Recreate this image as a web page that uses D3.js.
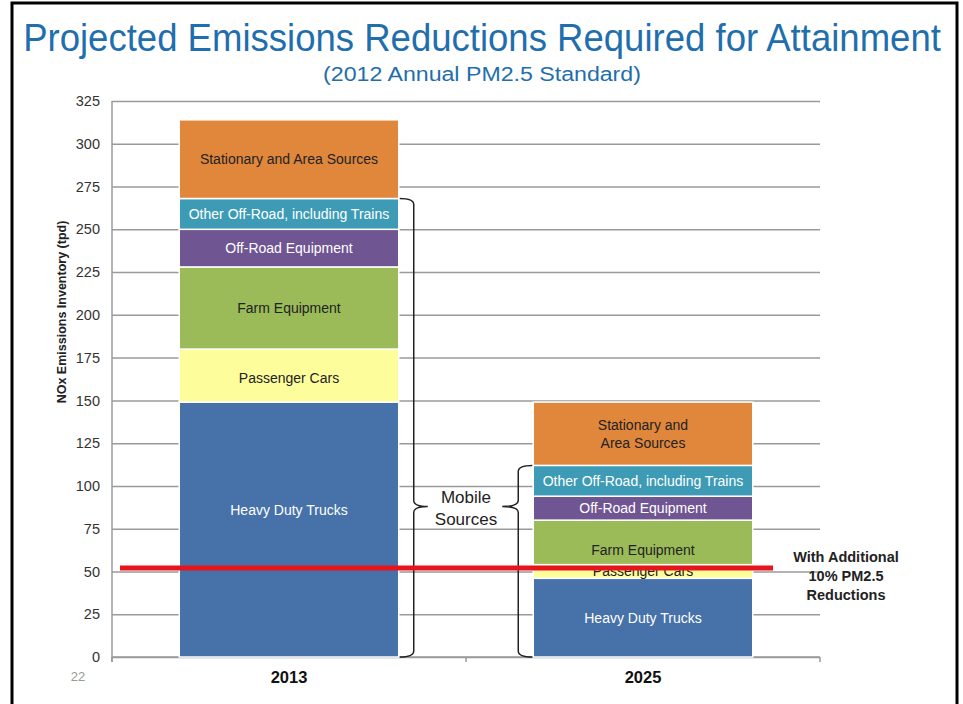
<!DOCTYPE html>
<html>
<head>
<meta charset="utf-8">
<script src="https://cdn.jsdelivr.net/npm/d3@7"></script>
<style>
  body { margin: 0; background: #fff; }
  svg { display: block; font-family: "Liberation Sans", Arial, sans-serif; }
</style>
</head>
<body>
<svg width="963" height="704"></svg>
<script>
// data
const years = ["2013", "2025"];
const sources = ["Heavy Duty Trucks", "Passenger Cars", "Farm Equipment",
                 "Off-Road Equipment", "Other Off-Road, including Trains",
                 "Stationary and Area Sources"];
const values2013 = [149, 31, 48, 22, 18, 46];
const values2025 = [46, 8, 26, 14, 18, 37];
const labels2013 = [["Heavy Duty Trucks"], ["Passenger Cars"], ["Farm Equipment"],
                    ["Off-Road Equipment"], ["Other Off-Road, including Trains"],
                    ["Stationary and Area Sources"]];
const labels2025 = [["Heavy Duty Trucks"], ["Passenger Cars"], ["Farm Equipment"],
                    ["Off-Road Equipment"], ["Other Off-Road, including Trains"],
                    ["Stationary and", "Area Sources"]];
const yTicks = [0, 25, 50, 75, 100, 125, 150, 175, 200, 225, 250, 275, 300, 325];
const targetLevel = 52;
const braceTip = 88;

const colors = ["#4672a9", "#fefd9b", "#9bbb59", "#6f5592", "#3e9bb6", "#e0873c"];
const textColors = ["#fff", "#222", "#222", "#fff", "#fff", "#222"];
// small vertical nudges of some labels (px), as placed on the slide
const labelNudge = { "2013|Heavy Duty Trucks": -19, "2025|Farm Equipment": 8, "2013|Passenger Cars": 3 };

let svg = d3.select("svg");

let plotLeft = 112, plotRight = 820, plotTop = 101, plotBottom = 657;

let x = d3.scaleBand()
    .domain(years)
    .range([plotLeft, plotRight])
    .paddingInner(0.38)
    .paddingOuter(0.19);

let y = d3.scaleLinear()
    .domain([0, 325])
    .range([plotBottom, plotTop]);

// border of the slide
svg.append("rect")
    .attr("x", 12).attr("y", 3)
    .attr("width", 945).attr("height", 740)
    .attr("fill", "none")
    .attr("stroke", "#000")
    .attr("stroke-width", 3);

// title, squeezed to the width it has on the slide
let title = svg.append("text")
    .attr("text-anchor", "middle")
    .attr("font-size", 38)
    .attr("fill", "#1f6ead")
    .text("Projected Emissions Reductions Required for Attainment");
let tw = title.node().getComputedTextLength();
title.attr("transform", `translate(482,51) scale(${918 / tw},1)`);

let sub = svg.append("text")
    .attr("text-anchor", "middle")
    .attr("font-size", 20)
    .attr("fill", "#1f6ead")
    .text("(2012 Annual PM2.5 Standard)");
let sw = sub.node().getComputedTextLength();
sub.attr("transform", `translate(482,81) scale(${318 / sw},1)`);

// gridlines
svg.append("g")
    .attr("transform", `translate(${plotLeft},0)`)
    .call(d3.axisLeft(y).tickValues(yTicks).tickSize(-(plotRight - plotLeft)).tickFormat(""))
    .call(g => g.select(".domain").remove())
    .selectAll("line")
    .attr("stroke", "#9a9a9a")
    .attr("stroke-width", 1.5);

// y axis labels
let yAxis = svg.append("g")
    .attr("transform", `translate(${plotLeft},0)`)
    .call(d3.axisLeft(y).tickValues(yTicks).tickSize(0).tickPadding(12));
yAxis.select(".domain").remove();
yAxis.selectAll("text")
    .attr("font-family", "Liberation Sans, Arial, sans-serif")
    .attr("font-size", 14.5)
    .attr("fill", "#333");

svg.append("line")
    .attr("x1", plotLeft).attr("x2", plotLeft)
    .attr("y1", plotTop).attr("y2", plotBottom + 5)
    .attr("stroke", "#9a9a9a")
    .attr("stroke-width", 1.5);

svg.append("line")
    .attr("x1", plotLeft).attr("x2", plotRight)
    .attr("y1", plotBottom).attr("y2", plotBottom)
    .attr("stroke", "#9a9a9a")
    .attr("stroke-width", 1.5);

// ticks at the band boundaries
svg.append("g")
    .selectAll("line")
    .data(d3.range(years.length + 1))
    .enter()
    .append("line")
    .attr("x1", i => plotLeft + i * x.step())
    .attr("x2", i => plotLeft + i * x.step())
    .attr("y1", plotBottom)
    .attr("y2", plotBottom + 5)
    .attr("stroke", "#9a9a9a")
    .attr("stroke-width", 1.5);

svg.append("text")
    .attr("transform", "translate(62,312) rotate(-90)")
    .attr("text-anchor", "middle")
    .attr("dy", "0.35em")
    .attr("font-size", 12.5)
    .attr("font-weight", "bold")
    .attr("fill", "#222")
    .text("NOx Emissions Inventory (tpd)");

// stacked bars
let table = years.map((yr, i) => {
    let row = { year: yr };
    let vals = i === 0 ? values2013 : values2025;
    sources.forEach((s, j) => row[s] = vals[j]);
    return row;
});
let series = d3.stack().keys(sources)(table);

let bars = svg.append("g");
series.forEach((s, j) => {
    bars.selectAll(null)
        .data(s)
        .enter()
        .append("rect")
        .attr("x", d => x(d.data.year))
        .attr("width", x.bandwidth())
        .attr("y", d => y(d[1]))
        .attr("height", d => y(d[0]) - y(d[1]))
        .attr("fill", colors[j])
        .attr("stroke", "#fff")
        .attr("stroke-width", 1.5);
});

// segment labels
series.forEach((s, j) => {
    s.forEach((d, i) => {
        let lines = (i === 0 ? labels2013 : labels2025)[j];
        let cx = x(d.data.year) + x.bandwidth() / 2;
        let cy = (y(d[0]) + y(d[1])) / 2 + (labelNudge[d.data.year + "|" + s.key] || 0);
        let t = svg.append("text")
            .attr("y", cy - (lines.length - 1) * 9)
            .attr("text-anchor", "middle")
            .attr("font-size", 14)
            .attr("fill", textColors[j]);
        lines.forEach((ln, k) => {
            t.append("tspan")
                .attr("x", cx)
                .attr("dy", k === 0 ? "0.35em" : 18)
                .text(ln);
        });
    });
});

// category labels
let xAxis = svg.append("g")
    .attr("transform", `translate(0,${plotBottom})`)
    .call(d3.axisBottom(x).tickSize(0).tickPadding(14));
xAxis.select(".domain").remove();
xAxis.selectAll("text")
    .attr("font-family", "Liberation Sans, Arial, sans-serif")
    .attr("font-size", 16.5)
    .attr("font-weight", "bold")
    .attr("fill", "#111");

svg.append("text")
    .attr("x", 78).attr("y", 681)
    .attr("text-anchor", "middle")
    .attr("font-size", 13)
    .attr("fill", "#999")
    .text("22");

// mobile source braces
let mobile = series[4];
let b1 = x("2013") + x.bandwidth();
let b1top = y(mobile[0][1]);
let tip = y(braceTip);
let r = 6;
svg.append("path")
    .attr("d", `M${b1 + 1},${b1top} Q${b1 + 15},${b1top} ${b1 + 15},${b1top + r}
        L${b1 + 15},${tip - r} Q${b1 + 15},${tip} ${b1 + 29},${tip}
        Q${b1 + 15},${tip} ${b1 + 15},${tip + r}
        L${b1 + 15},${plotBottom - r} Q${b1 + 15},${plotBottom} ${b1 + 1},${plotBottom}`)
    .attr("fill", "none")
    .attr("stroke", "#222")
    .attr("stroke-width", 1.5);

let b2 = x("2025");
let b2top = y(mobile[1][1]);
svg.append("path")
    .attr("d", `M${b2 - 1},${b2top} Q${b2 - 15},${b2top} ${b2 - 15},${b2top + r}
        L${b2 - 15},${tip - r} Q${b2 - 15},${tip} ${b2 - 31},${tip}
        Q${b2 - 15},${tip} ${b2 - 15},${tip + r}
        L${b2 - 15},${plotBottom - r} Q${b2 - 15},${plotBottom} ${b2 - 1},${plotBottom}`)
    .attr("fill", "none")
    .attr("stroke", "#222")
    .attr("stroke-width", 1.5);

let mid = plotLeft + x.step();
let mt = svg.append("text")
    .attr("text-anchor", "middle")
    .attr("font-size", 17)
    .attr("fill", "#222");
mt.append("tspan").attr("x", mid).attr("y", tip - 3).text("Mobile");
mt.append("tspan").attr("x", mid).attr("y", tip + 19).text("Sources");

// reduction target line
svg.append("line")
    .attr("x1", 120).attr("x2", 773)
    .attr("y1", y(targetLevel)).attr("y2", y(targetLevel))
    .attr("stroke", "#e8141b")
    .attr("stroke-width", 5);

let rt = svg.append("text")
    .attr("text-anchor", "middle")
    .attr("font-size", 14.5)
    .attr("font-weight", "bold")
    .attr("fill", "#222");
["With Additional", "10% PM2.5", "Reductions"].forEach((ln, k) => {
    rt.append("tspan")
        .attr("x", 846)
        .attr("y", 562 + k * 19)
        .text(ln);
});
</script>
</body>
</html>
